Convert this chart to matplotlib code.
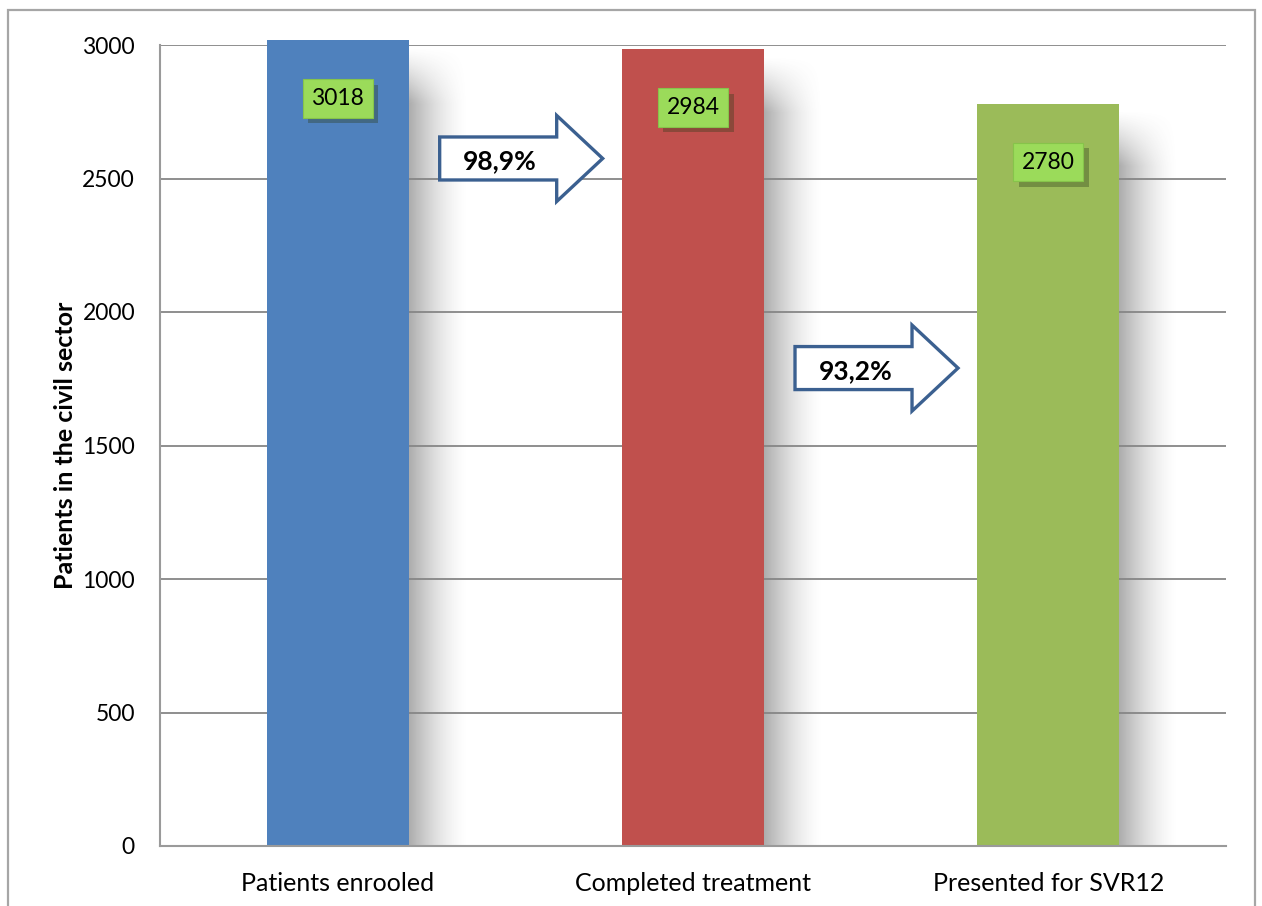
import numpy as np
import matplotlib.pyplot as plt
from matplotlib.patches import Polygon, Rectangle
import matplotlib.patheffects as pe

plt.rcParams['font.family'] = ['Lato', 'DejaVu Sans']

categories = ['Patients enrooled', 'Completed treatment', 'Presented for SVR12']
patients = [3018, 2984, 2780]
bar_colors = ['#4F81BD', '#C0504D', '#9BBB59']

W, H = 1262, 906
fig = plt.figure(figsize=(W / 100, H / 100), dpi=100)
fig.patch.set_facecolor('white')

# outer chart frame
fig.patches.append(Rectangle((8 / W, -0.05), 1247 / W, 1.05 - 10 / H,
                             transform=fig.transFigure, fill=False,
                             edgecolor='#a6a6a6', linewidth=1.6))

ax = fig.add_axes([160 / W, 60 / H, 1066 / W, 801 / H])
ax.set_xlim(-0.5, 2.5)
ax.set_ylim(0, 3000)
px_x = 3.0 / 1066      # data units per pixel, x
px_y = 3000.0 / 801    # data units per pixel, y

ax.set_yticks(np.arange(0, 3001, 500))
ax.yaxis.grid(True, color='#868686', linewidth=1.3, zorder=0)
ax.set_axisbelow(True)
for s in ['top', 'right']:
    ax.spines[s].set_visible(False)
for s in ['left', 'bottom']:
    ax.spines[s].set_color('#9a9a9a')
    ax.spines[s].set_linewidth(1.5)
ax.tick_params(axis='both', length=0, colors='black')
ax.tick_params(axis='y', pad=18, labelsize=16.5)
ax.tick_params(axis='x', pad=19, labelsize=18)
ax.set_xticks(range(len(categories)))
ax.set_xticklabels(categories)
ax.set_ylabel('Patients in the civil sector', fontsize=18, fontweight='bold',
              labelpad=4)

width = 0.4
x = np.arange(len(categories))

# soft drop shadow to the right of each bar
sw = 60 * px_x
for xi, v in zip(x, patients):
    top = v - 6 * px_y
    nx, ny = 80, 200
    hx = np.linspace(0, 1, nx)
    hy = np.linspace(0, 1, ny)      # 0 = bottom, 1 = top
    horiz = (1 - hx) ** 1.6
    ramp_px = 55
    dist_from_top = (1 - hy) * top / px_y
    vert = np.clip(dist_from_top / ramp_px, 0, 1) ** 1.2
    alpha = 0.5 * np.outer(vert, horiz)
    img = np.zeros((ny, nx, 4))
    img[..., :3] = 0.35
    img[..., 3] = alpha
    ax.imshow(img, extent=(xi + width / 2, xi + width / 2 + sw, 0, top),
              origin='lower', aspect='auto', zorder=0.5, interpolation='bilinear')

ax.bar(x, patients, width=width, color=bar_colors, zorder=2, clip_on=False)

# value labels in green boxes
for xi, v in zip(x, patients):
    t = ax.annotate(f'{v}', xy=(xi, v), xytext=(0, -42), textcoords='offset points',
                    ha='center', va='center', fontsize=16.5, zorder=4,
                    annotation_clip=False,
                    bbox=dict(boxstyle='square,pad=0.38', facecolor='#9BDB5A',
                              edgecolor='#86c44a', linewidth=0.8))
    t.get_bbox_patch().set_path_effects([
        pe.SimplePatchShadow(offset=(4, -4), shadow_rgbFace='#2a3a18', alpha=0.35),
        pe.Normal()])

# block arrows between bars with the retention percentage
def block_arrow(x0, xb, xt, yc, body_h, head_h, text):
    pts = [(x0, yc - body_h / 2), (xb, yc - body_h / 2), (xb, yc - head_h / 2),
           (xt, yc), (xb, yc + head_h / 2), (xb, yc + body_h / 2),
           (x0, yc + body_h / 2)]
    ax.add_patch(Polygon(pts, closed=True, facecolor='white', edgecolor='#3B6090',
                         linewidth=2.4, zorder=3, joinstyle='miter'))
    ax.text((x0 + xb) / 2 + 0.005, yc - 3 * px_y, text, ha='center', va='center',
            fontsize=19, fontweight='bold', zorder=4)

def pct(a, b):
    return f'{100 * b / a:.1f}%'.replace('.', ',')

arrow_y = [2575, 1790]
for i, yc in enumerate(arrow_y):
    x0 = i + (440 - 338) / 355.3
    xb = i + (557 - 338) / 355.3
    xt = i + (603 - 338) / 355.3
    block_arrow(x0, xb, xt, yc, 43 * px_y, 86 * px_y,
                pct(patients[i], patients[i + 1]))

fig.savefig('out.png', dpi=100)
